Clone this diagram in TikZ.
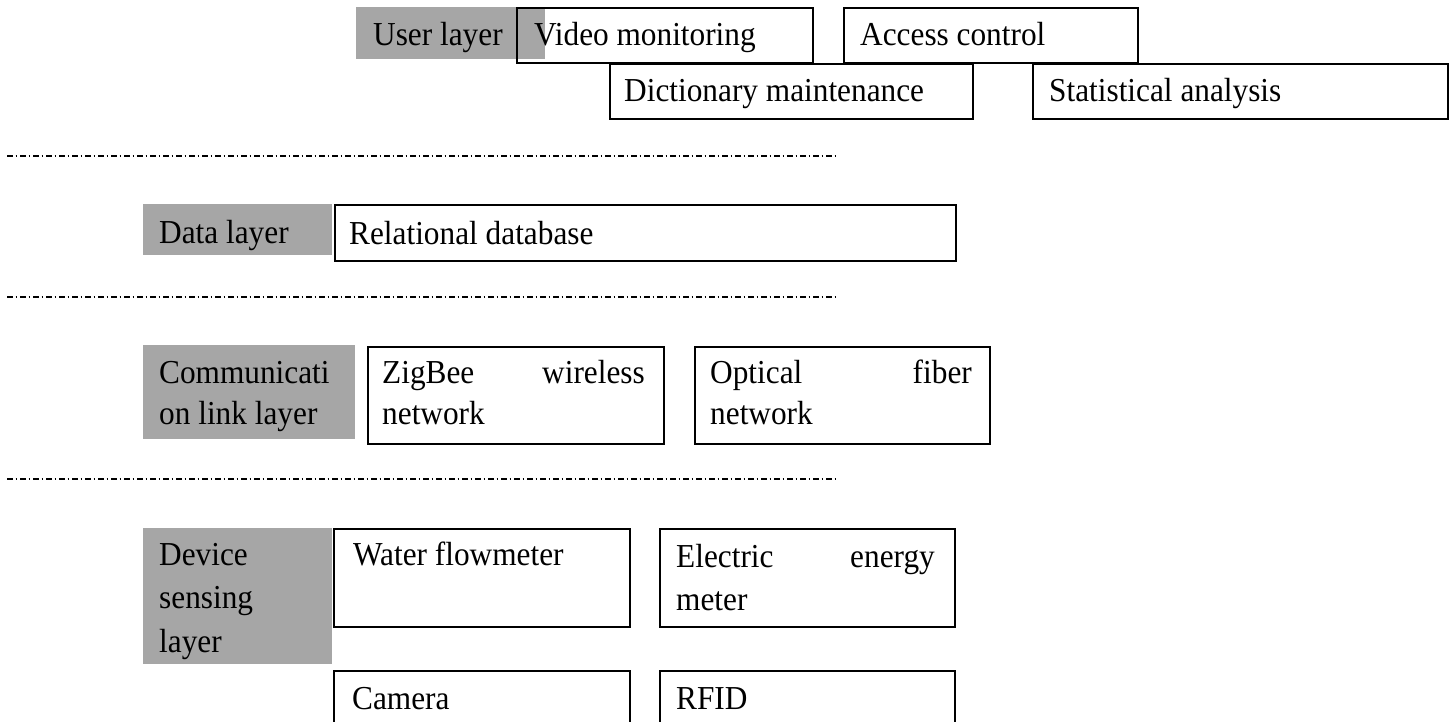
\documentclass[tikz,border=0pt]{standalone}
\usepackage{fontspec}
\setmainfont{Liberation Serif}
\definecolor{laygray}{HTML}{A6A6A6}
\newcommand{\tallt}[1]{\scalebox{1}[1.07]{#1}}
\tikzset{
  layerbg/.style={fill=laygray, draw=none, inner sep=0pt, anchor=north west},
  itembox/.style={draw=black, line width=2pt, fill=none, inner sep=0pt, anchor=north west},
  lbl/.style={inner sep=0pt, anchor=base west, font=\fontsize{31.3pt}{42pt}\selectfont},
  lble/.style={inner sep=0pt, anchor=base east, font=\fontsize{31.3pt}{42pt}\selectfont},
  sepline/.style={line width=1.5pt, dash pattern=on 5.5pt off 3pt on 1.5pt off 3pt}
}
\begin{document}
\begin{tikzpicture}[x=1pt,y=-1pt]
\useasboundingbox (0,0) rectangle (1450,722);
\fill[white] (0,0) rectangle (1450,722);
\clip (0,0) rectangle (1450,722);

% ---------- User layer ----------
\node[layerbg, minimum width=189pt, minimum height=52pt] (ubg) at (356,7) {};
\node[itembox, minimum width=296pt, minimum height=55pt] (vid) at (516,7) {};
\node[itembox, minimum width=294pt, minimum height=55pt] (acc) at (843,7) {};
\node[itembox, minimum width=363pt, minimum height=55pt] (dic) at (609,63) {};
\node[itembox, minimum width=415pt, minimum height=55pt] (sta) at (1032,63) {};
\node[lbl] (ut) at (373,46) {\tallt{User layer}};
\node[lbl] (vidt) at (534,46) {\tallt{Video monitoring}};
\node[lbl] (acct) at (860,46) {\tallt{Access control}};
\node[lbl] (dict) at (624,102) {\tallt{Dictionary maintenance}};
\node[lbl] (stat) at (1049,102) {\tallt{Statistical analysis}};

\coordinate (s1a) at (7,156);
\coordinate (s1b) at (837,156);
\draw[sepline] (s1a) -- (s1b);

% ---------- Data layer ----------
\node[layerbg, minimum width=189pt, minimum height=51pt] (dbg) at (143,204) {};
\node[itembox, minimum width=621pt, minimum height=56pt] (rel) at (334,204) {};
\node[lbl] (dt) at (159,243) {\tallt{Data layer}};
\node[lbl] (relt) at (349,244) {\tallt{Relational database}};

\coordinate (s2a) at (7,297);
\coordinate (s2b) at (837,297);
\draw[sepline] (s2a) -- (s2b);

% ---------- Communication link layer ----------
\node[layerbg, minimum width=212pt, minimum height=94pt] (cbg) at (143,345) {};
\node[itembox, minimum width=296pt, minimum height=97pt] (zig) at (367,346) {};
\node[itembox, minimum width=295pt, minimum height=97pt] (opt) at (694,346) {};
\node[lbl] (ct1) at (159,383) {\tallt{Communicati}};
\node[lbl] (ct2) at (159,424) {\tallt{on link layer}};
\node[lbl] (zt1) at (382,383) {\tallt{ZigBee}};
\node[lble] (zt2) at (645,383) {\tallt{wireless}};
\node[lbl] (zt3) at (382,424) {\tallt{network}};
\node[lbl] (ot1) at (710,383) {\tallt{Optical}};
\node[lble] (ot2) at (972,383) {\tallt{fiber}};
\node[lbl] (ot3) at (710,424) {\tallt{network}};

\coordinate (s3a) at (7,479);
\coordinate (s3b) at (837,479);
\draw[sepline] (s3a) -- (s3b);

% ---------- Device sensing layer ----------
\node[layerbg, minimum width=189pt, minimum height=136pt] (sbg) at (143,528) {};
\node[itembox, minimum width=296pt, minimum height=98pt] (wat) at (333,528) {};
\node[itembox, minimum width=295pt, minimum height=98pt] (ele) at (659,528) {};
\node[itembox, minimum width=296pt, minimum height=70pt] (cam) at (333,670) {};
\node[itembox, minimum width=295pt, minimum height=70pt] (rfid) at (659,670) {};
\node[lbl] (st1) at (159,565) {\tallt{Device}};
\node[lbl] (st2) at (159,608) {\tallt{sensing}};
\node[lbl] (st3) at (159,652) {\tallt{layer}};
\node[lbl] (watt) at (353,565) {\tallt{Water flowmeter}};
\node[lbl] (et1) at (676,567) {\tallt{Electric}};
\node[lble] (et2) at (935,567) {\tallt{energy}};
\node[lbl] (et3) at (676,610) {\tallt{meter}};
\node[lbl] (camt) at (352,709) {\tallt{Camera}};
\node[lbl] (rfidt) at (676,709) {\tallt{RFID}};
\end{tikzpicture}
\end{document}
